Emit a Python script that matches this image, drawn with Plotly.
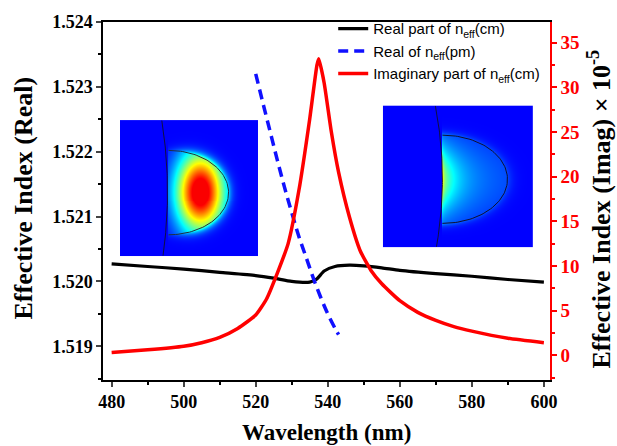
import numpy as np
import plotly.graph_objects as go

# ---------------- data ----------------
wl_real_cm = [480, 490, 500, 510, 520, 525, 530, 535, 537, 539, 542, 546, 550, 555, 560, 570, 580, 590, 600]
n_real_cm = [1.52027, 1.52023, 1.52019, 1.52014, 1.52009, 1.52005, 1.52000, 1.51999, 1.52004, 1.52016,
             1.52023, 1.52025, 1.52024, 1.52021, 1.52017, 1.52012, 1.52008, 1.52003, 1.51999]

wl_real_pm = [520, 522, 524, 526, 528, 530, 532, 534, 536, 538, 540, 542, 543]
n_real_pm = [1.52320, 1.52275, 1.52231, 1.52187, 1.52145, 1.52106, 1.52069, 1.52037, 1.52005,
             1.51976, 1.51950, 1.51928, 1.51918]

wl_imag_cm = [480, 490, 500, 505, 510, 515, 520, 523, 526, 529, 532, 535, 537, 537.5, 539, 541, 543,
              546, 549, 552, 555, 560, 565, 570, 575, 580, 590, 600]
n_imag_cm = [0.3, 0.6, 1.0, 1.4, 2.0, 3.0, 4.5, 6.3, 9.2, 12.5, 18.5, 26.5, 32.5, 33.2, 30.5, 25.0, 20.5,
             15.5, 11.7, 9.5, 8.0, 6.1, 4.8, 3.9, 3.2, 2.7, 1.9, 1.4]

x_ticks = [480, 500, 520, 540, 560, 580, 600]
y_left_ticks = [1.519, 1.520, 1.521, 1.522, 1.523, 1.524]
y_right_ticks = [0, 5, 10, 15, 20, 25, 30, 35]

legend_names = ["Real part of n<sub>eff</sub>(cm)", "Real of n<sub>eff</sub>(pm)",
                "Imaginary part of n<sub>eff</sub>(cm)"]

# ---------------- inset mode-field pictures ----------------
jet = [[0, '#00007f'], [0.125, '#0000ff'], [0.375, '#00ffff'], [0.625, '#ffff00'],
       [0.875, '#ff0000'], [1, '#7f0000']]

# left inset (pixel-like grid)
lx = np.arange(138)
ly = np.arange(137)
LX, LY = np.meshgrid(lx, ly)
r2 = ((LX - 80) / 24.0) ** 2 + ((LY - 72) / 40.0) ** 2
zl = 0.125 + 0.85 * np.exp(-r2)
zl = np.minimum(zl, 0.88)
ell_l = ((LX - 48) / 60.0) ** 2 + ((LY - 72.5) / 42.5) ** 2
fade_l = np.where(ell_l <= 1, 1.0, np.exp(-(np.sqrt(np.maximum(ell_l, 1)) - 1) * 10))
zl = 0.125 + (zl - 0.125) * fade_l
zl[LX < 48] = 0.125

# right inset
rx = np.arange(150)
ry = np.arange(143)
RX, RY = np.meshgrid(rx, ry)
dx = RX - 59.0
ell = ((RX - 59) / 65.0) ** 2 + ((RY - 74) / 45.0) ** 2
inside = ell <= 1
g1 = np.exp(-((RY - 74) / 30.0) ** 2)
g2 = np.exp(-((RY - 74) / 55.0) ** 2)
zr = 0.125 + 0.27 * np.exp(-np.clip(dx, 0, None) / 14.0) * g1 \
     + 0.15 * np.exp(-np.clip(dx, 0, None) / 90.0) * g2 \
     + 0.1 * np.exp(-np.clip(dx, 0, None) / 1.5) * g1
fade = np.where(inside, 1.0, np.exp(-(np.sqrt(ell) - 1) * 12))
zr = 0.125 + (zr - 0.125) * fade
zr[RX < 59] = 0.125

fig = go.Figure()

fig.add_trace(go.Scatter(x=wl_real_cm, y=n_real_cm, mode='lines', name=legend_names[0],
                         line=dict(color='black', width=3.2, shape='spline', smoothing=0.6)))
fig.add_trace(go.Scatter(x=wl_real_pm, y=n_real_pm, mode='lines', name=legend_names[1],
                         line=dict(color='#1010ff', width=3.5, dash='10px,6px', shape='spline')))
fig.add_trace(go.Scatter(x=wl_imag_cm, y=n_imag_cm, mode='lines', name=legend_names[2], yaxis='y2',
                         line=dict(color='#ff0000', width=3.5, shape='spline', smoothing=0.5)))

# inset heatmaps
fig.add_trace(go.Heatmap(z=zl, x=lx, y=ly, xaxis='x3', yaxis='y3', colorscale=jet, zmin=0, zmax=1,
                         showscale=False, showlegend=False, hoverinfo='skip'))
ay = np.linspace(0, 136, 60)
fig.add_trace(go.Scatter(x=47 - 0.0011 * (ay - 72) ** 2, y=ay, xaxis='x3', yaxis='y3', mode='lines',
                         line=dict(color='#101040', width=1), showlegend=False, hoverinfo='skip'))
th = np.linspace(-np.pi / 2, np.pi / 2, 80)
fig.add_trace(go.Scatter(x=48 + 60 * np.cos(th), y=72.5 + 42.5 * np.sin(th), xaxis='x3', yaxis='y3',
                         mode='lines', line=dict(color='#203040', width=1), showlegend=False,
                         hoverinfo='skip'))

fig.add_trace(go.Heatmap(z=zr, x=rx, y=ry, xaxis='x4', yaxis='y4', colorscale=jet, zmin=0, zmax=1,
                         showscale=False, showlegend=False, hoverinfo='skip'))
by = np.linspace(0, 142, 60)
fig.add_trace(go.Scatter(x=59 - 0.00128 * (by - 74) ** 2, y=by, xaxis='x4', yaxis='y4', mode='lines',
                         line=dict(color='#101040', width=1), showlegend=False, hoverinfo='skip'))
fig.add_trace(go.Scatter(x=59 + 65 * np.cos(th), y=74 + 44.5 * np.sin(th), xaxis='x4', yaxis='y4',
                         mode='lines', line=dict(color='#101030', width=1), showlegend=False,
                         hoverinfo='skip'))

serif = "Liberation Serif"
tickfont = dict(family=serif, size=18, color='black', weight='bold')

fig.update_layout(
    width=617, height=446,
    margin=dict(l=103, r=67, t=19, b=66),
    paper_bgcolor='white', plot_bgcolor='white',
    xaxis=dict(range=[477.6, 601.7], tickvals=x_ticks, ticks='outside', ticklen=5, tickwidth=1.5,
               linecolor='black', linewidth=1.5, mirror=True, showgrid=False, zeroline=False,
               tickfont=tickfont, minor=dict(dtick=10, tick0=480, ticks='outside', ticklen=3,
                                              tickcolor='black')),
    yaxis=dict(range=[1.51848, 1.524], tickvals=y_left_ticks, tickformat='.3f', ticks='outside',
               ticklen=5, tickwidth=1.5, linecolor='black', linewidth=1.5, showgrid=False,
               zeroline=False, tickfont=tickfont,
               minor=dict(dtick=0.0005, tick0=1.519, ticks='outside', ticklen=3, tickcolor='black')),
    yaxis2=dict(range=[-2.78, 37.33], overlaying='y', side='right', tickvals=y_right_ticks,
                ticks='outside', ticklen=5, tickwidth=1.5, tickcolor='red', linecolor='red',
                linewidth=1.5, showgrid=False, zeroline=False,
                tickfont=dict(family=serif, size=19, color='red', weight='bold'),
                minor=dict(dtick=2.5, tick0=0, ticks='outside', ticklen=3, tickcolor='red')),
    xaxis3=dict(domain=[0.038, 0.347], anchor='y3', range=[-0.5, 137.5], visible=False,
                showgrid=False, zeroline=False),
    yaxis3=dict(domain=[0.346, 0.726], anchor='x3', range=[136.5, -0.5], visible=False,
                showgrid=False, zeroline=False),
    xaxis4=dict(domain=[0.626, 0.962], anchor='y4', range=[-0.5, 149.5], visible=False,
                showgrid=False, zeroline=False),
    yaxis4=dict(domain=[0.371, 0.767], anchor='x4', range=[142.5, -0.5], visible=False,
                showgrid=False, zeroline=False),
    legend=dict(x=0.515, y=1.027, xanchor='left', yanchor='top', bgcolor='rgba(0,0,0,0)',
                font=dict(family='Liberation Sans', size=15, color='black'), tracegroupgap=0),
    showlegend=True,
)

title_font = dict(family=serif, size=26, color='black', weight='bold')
fig.add_annotation(text="Effective Index (Real)", xref='paper', yref='paper', x=0, y=0.507,
                   xanchor='center', yanchor='middle', xshift=-80, textangle=-90, showarrow=False,
                   font=title_font)
fig.add_annotation(text="Effective Index (Imag) × 10<sup>-5</sup>", xref='paper', yref='paper', x=1,
                   y=0.476, xanchor='center', yanchor='middle', xshift=50, textangle=-90,
                   showarrow=False, font=title_font)
fig.add_annotation(text="Wavelength (nm)", xref='paper', yref='paper', x=0.499, y=0,
                   xanchor='center', yanchor='middle', yshift=-52, showarrow=False,
                   font=dict(family=serif, size=23, color='black', weight='bold'))

fig.write_html("out.html")
